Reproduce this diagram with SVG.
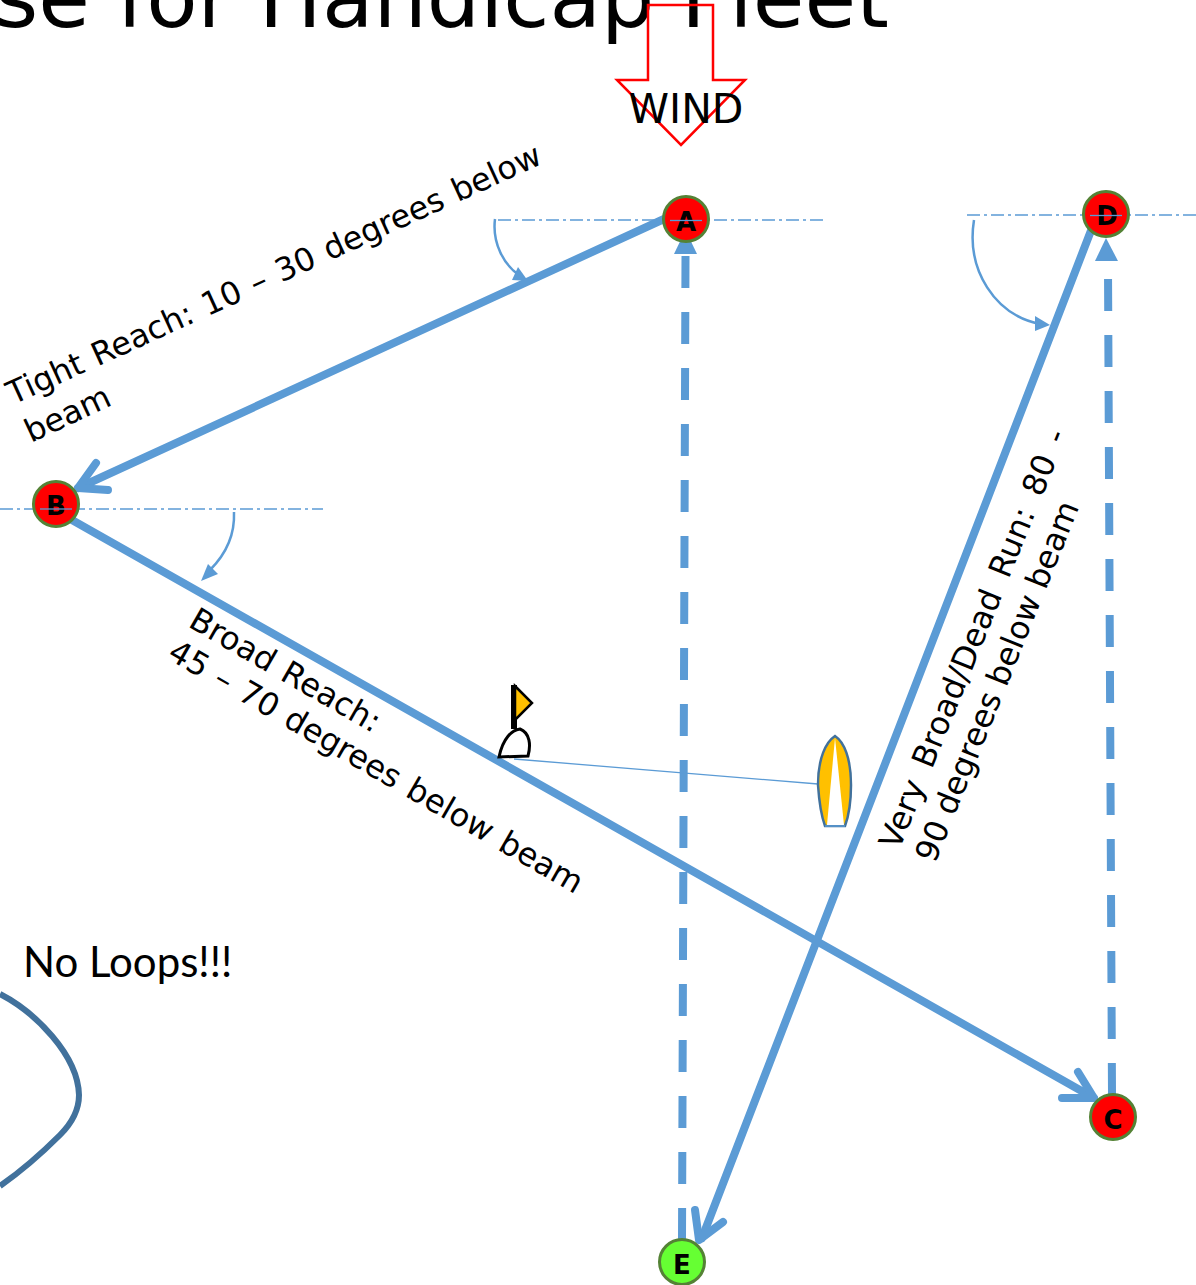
<svg xmlns="http://www.w3.org/2000/svg" width="1196" height="1285" viewBox="0 0 1196 1285">
<style>
text{font-family:"DejaVu Sans","Liberation Sans",sans-serif;fill:#000}
.lab{font-size:32px;word-spacing:2px}
.nl{font-size:26px;font-weight:bold;text-anchor:middle}
.node{stroke:#548235;stroke-width:3;fill:#f00}
.solid{fill:none;stroke:#5b9bd5;stroke-width:8;stroke-linecap:round;stroke-linejoin:round}
.dash{fill:none;stroke:#5b9bd5;stroke-width:8;stroke-dasharray:32 24}
.beam{fill:none;stroke:#5b9bd5;stroke-width:1.3;stroke-dasharray:13 4 3 4}
.arc{fill:none;stroke:#5b9bd5;stroke-width:2.500}
.tip{fill:#5b9bd5}
</style>
<rect width="1196" height="1285" fill="#fff"/>
<text id="title" x="889" y="27" font-size="84" text-anchor="end">se for Handicap Fleet</text>
<g id="wind">
<path d="M648 5H713V80H745L681 145L617 80H648Z" fill="none" stroke="#f00" stroke-width="2.500"/>
<text x="686" y="123" font-size="41" text-anchor="middle">WIND</text>
</g>
<g id="connectors">
<path class="beam" d="M498 220H825"/>
<path class="beam" d="M967 215H1196"/>
<path class="beam" d="M0 509H323"/>
<path class="arc" d="M495 219C492 243 504 265 519 275"/><path class="tip" d="M528 281L512 280L518 267Z"/>
<path class="arc" d="M974 220C966 270 995 315 1040 324"/><path class="tip" d="M1050 325L1035 331L1035 316Z"/>
<path class="arc" d="M234 512C235 535 225 555 210 570"/><path class="tip" d="M201 581L208 564L218 574Z"/>
<path class="solid" d="M664 219L78 488"/><path class="solid" d="M96 463L78 488L108 490"/>
<path class="solid" d="M72 520L1094 1098"/><path class="solid" d="M1062 1098L1094 1098L1078 1072"/>
<path class="solid" d="M1092 228L702 1238"/><path class="solid" d="M695 1210L699 1240L723 1222"/>
<path class="dash" d="M682 1240L685.500 256"/><path class="tip" d="M685.500 230L697 254H674Z"/>
<path class="dash" d="M1112 1095L1108 268"/><path class="tip" d="M1106 238L1118 261H1095Z"/>
<path d="M514 759L818 784" fill="none" stroke="#5b9bd5" stroke-width="1.300"/>
</g>
<g id="A"><circle class="node" cx="686" cy="219" r="22.500"/><text class="nl" x="686" y="231">A</text><path d="M670 220.500H702" stroke="#5b9bd5" stroke-width="1.300"/></g>
<g id="D"><circle class="node" cx="1106" cy="214" r="22.500"/><text class="nl" x="1107" y="225">D</text><path d="M1090 215.500H1122" stroke="#5b9bd5" stroke-width="1.300"/></g>
<g id="B"><circle class="node" cx="56" cy="504" r="22.500"/><text class="nl" x="56" y="515">B</text><path d="M40 509H72" stroke="#5b9bd5" stroke-width="1.300"/></g>
<g id="C"><circle class="node" cx="1113" cy="1117" r="22.500"/><text class="nl" x="1113" y="1129">C</text></g>
<g id="E"><circle class="node" style="fill:#66ff33" cx="682" cy="1262" r="22.500"/><text class="nl" x="682" y="1274">E</text></g>
<g id="mark">
<path d="M514 685V729" stroke="#000" stroke-width="6"/>
<path d="M515 686L532 703L515 720Z" fill="#ffc000" stroke="#000" stroke-width="2.500"/>
<path d="M499 757C503 738 512 730 520 729C530 733 531 745 528 756Z" fill="#fff" stroke="#000" stroke-width="3"/>
</g>
<g id="boat">
<path d="M835 736C826 742 818 758 818 785C819 800 821 815 825 826H845C849 815 851 800 851 785C851 758 844 742 835 736Z" fill="#ffc000" stroke="#41719c" stroke-width="2.500"/>
<path d="M835 738L827 825H844Z" fill="#fff"/>
<path d="M825 826H845" stroke="#5b9bd5" stroke-width="1.500"/>
</g>
<path id="loop" d="M0 994C35 1012 78 1055 79 1095C79 1112 70 1125 60 1135C40 1155 20 1172 0 1186" fill="none" stroke="#41719c" stroke-width="6"/>
<text id="noloops" x="23" y="977" font-size="42" style="font-family:Lato,'Open Sans',sans-serif">No Loops!!!</text>
<g id="labels">
<text class="lab" transform="translate(13 405) rotate(-24.500)">Tight Reach: 10 – 30 degrees below</text>
<text class="lab" transform="translate(31 443) rotate(-25)">beam</text>
<text class="lab" transform="translate(187 626) rotate(30)">Broad Reach:</text>
<text class="lab" transform="translate(166 658) rotate(30)">45 – 70 degrees below beam</text>
<text class="lab" style="word-spacing:6px" transform="translate(899 851) rotate(-68)">Very Broad/Dead Run: 80 -</text>
<text class="lab" style="word-spacing:0" transform="translate(935 864) rotate(-68)">90 degrees below beam</text>
</g>
</svg>
